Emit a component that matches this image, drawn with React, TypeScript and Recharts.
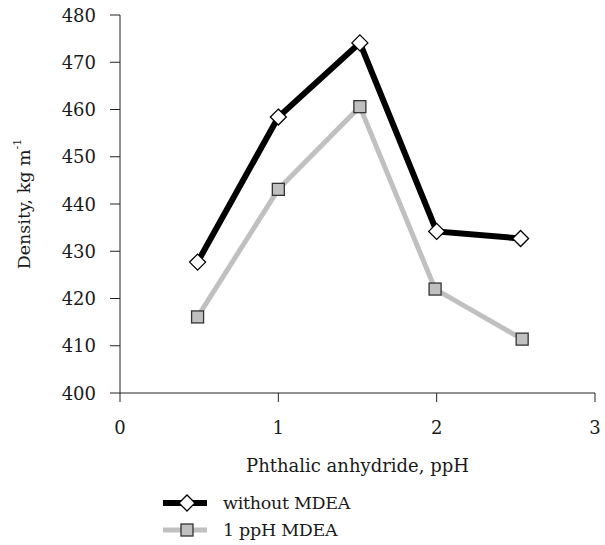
import { LineChart, Line, XAxis, YAxis } from 'recharts';

const xWithout = [0.49, 1.0, 1.515, 2.0, 2.53];
const densityWithout = [427.7, 458.4, 474.1, 434.2, 432.7];
const xMdea = [0.49, 1.0, 1.515, 1.99, 2.54];
const densityMdea = [416.1, 443.1, 460.6, 422.0, 411.4];
const xTicks = [0, 1, 2, 3];
const yTicks = [400, 410, 420, 430, 440, 450, 460, 470, 480];

const withoutData = xWithout.map((x, i) => ({ x, y: densityWithout[i] }));
const mdeaData = xMdea.map((x, i) => ({ x, y: densityMdea[i] }));

const FONT = '"DejaVu Serif", serif';
const INK = '#1a1a1a';

function Diamond({ cx, cy }: any) {
    if (cx == null || cy == null) return null;
    return <path d={`M${cx},${cy - 8} L${cx + 8},${cy} L${cx},${cy + 8} L${cx - 8},${cy} Z`} fill="#fff" stroke="#000" strokeWidth={1.3} />;
}

function Square({ cx, cy }: any) {
    if (cx == null || cy == null) return null;
    return <rect x={cx - 6} y={cy - 6} width={12} height={12} fill="#c0c0c0" stroke="#333" strokeWidth={1.3} />;
}

function YTick({ x, y, payload }: any) {
    return (
        <text x={x} y={y} textAnchor="end" dominantBaseline="central" fontFamily={FONT} fontSize={18} fill={INK}>
            {payload.value}
        </text>
    );
}

function XTick({ x, y, payload }: any) {
    return (
        <text x={x} y={y} textAnchor="middle" dominantBaseline="hanging" fontFamily={FONT} fontSize={18} fill={INK}>
            {payload.value}
        </text>
    );
}

function YLabel({ viewBox }: any) {
    const cy = viewBox.y + viewBox.height / 2;
    return (
        <text x={0} y={0} transform={`translate(24, ${cy}) rotate(-90)`} textAnchor="middle" fontFamily={FONT} fontSize={17.5} fill={INK} dominantBaseline="central">
            Density, kg m<tspan dy={-7} fontSize={11}>-1</tspan>
        </text>
    );
}

function XLabel({ viewBox }: any) {
    return (
        <text x={viewBox.x + viewBox.width / 2} y={viewBox.y + 79} textAnchor="middle" fontFamily={FONT} fontSize={18} fill={INK}>
            Phthalic anhydride, ppH
        </text>
    );
}

export default function App() {
    return (
        <div style={{ position: 'absolute', left: 0, top: 0, width: 605, height: 545, background: '#fff' }}>
            <LineChart width={605} height={545} margin={{ top: 15, right: 10, bottom: 72, left: 0 }}>
                <XAxis dataKey="x" type="number" domain={[0, 3]} ticks={xTicks} allowDataOverflow
                    height={80} tickSize={9} tickMargin={18} tick={<XTick />}
                    axisLine={{ stroke: '#222' }} tickLine={{ stroke: '#222' }} label={{ content: XLabel }} />
                <XAxis xAxisId="top" orientation="top" type="number" domain={[0, 3]} height={0} tick={false} tickLine={false} axisLine={{ stroke: '#222' }} />
                <YAxis type="number" domain={[400, 480]} ticks={yTicks} width={120} tickSize={10} tickMargin={14}
                    tick={<YTick />} axisLine={{ stroke: '#222' }} tickLine={{ stroke: '#222' }} label={{ content: YLabel }} />
                <YAxis yAxisId="right" orientation="right" type="number" domain={[400, 480]} width={0} tick={false} tickLine={false} axisLine={{ stroke: '#222' }} />
                <Line data={mdeaData} dataKey="y" stroke="#c0c0c0" strokeWidth={5} dot={<Square />} activeDot={false} isAnimationActive={false} />
                <Line data={withoutData} dataKey="y" stroke="#000" strokeWidth={6} dot={<Diamond />} activeDot={false} isAnimationActive={false} />
            </LineChart>
            <svg width={240} height={56} style={{ position: 'absolute', left: 160, top: 488 }}>
                <line x1={3} x2={47} y1={15} y2={15} stroke="#000" strokeWidth={6} />
                <Diamond cx={27} cy={15} />
                <text x={63} y={15} dominantBaseline="central" fontFamily={FONT} fontSize={17.5} fill={INK} letterSpacing={-0.3}>without MDEA</text>
                <line x1={3} x2={47} y1={42} y2={42} stroke="#c0c0c0" strokeWidth={5} />
                <rect x={21} y={36} width={12} height={12} fill="#c0c0c0" stroke="#333" strokeWidth={1.3} />
                <text x={63} y={42} dominantBaseline="central" fontFamily={FONT} fontSize={17.5} fill={INK} letterSpacing={-0.3}>1 ppH MDEA</text>
            </svg>
        </div>
    );
}
